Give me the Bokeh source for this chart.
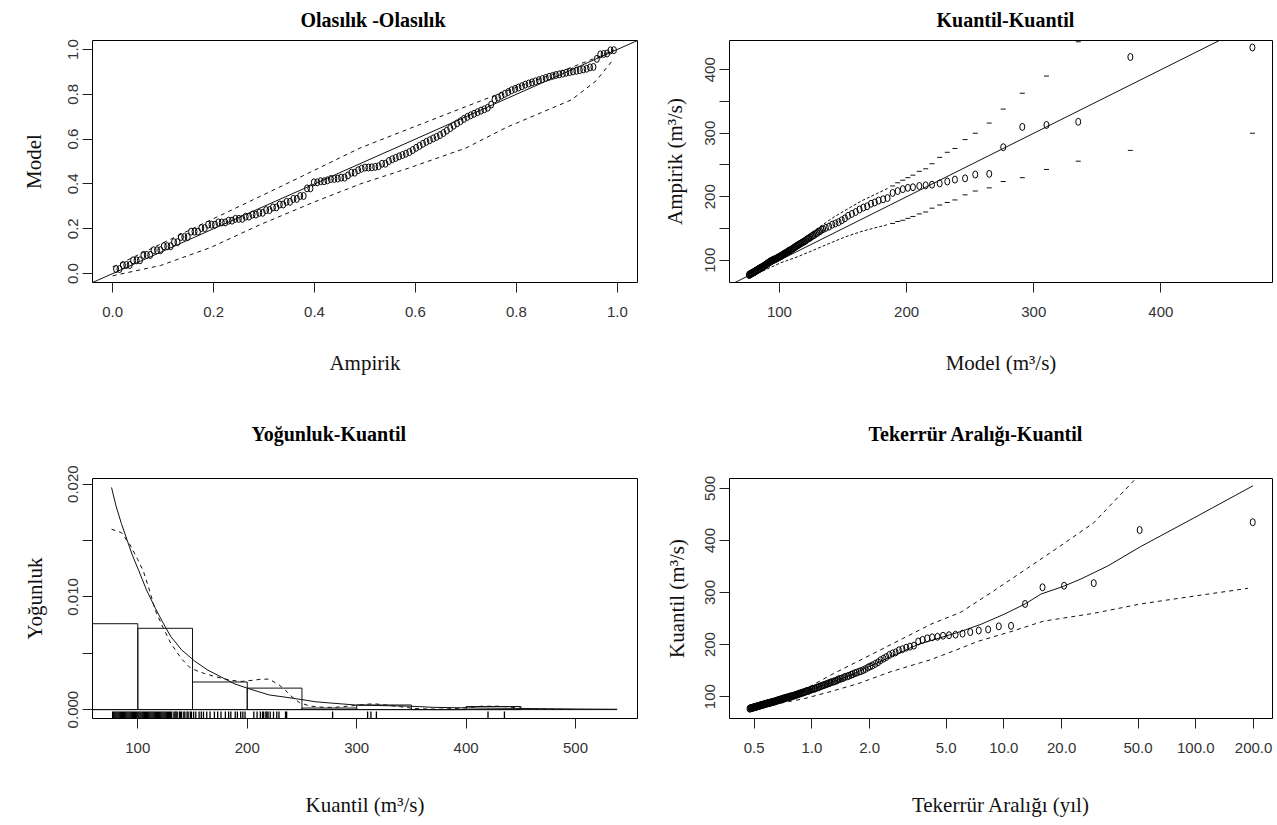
import numpy as np
from bokeh.plotting import figure
from bokeh.models import Range1d, FixedTicker, CustomJSTickFormatter, Slope
from bokeh.layouts import gridplot
from bokeh.embed import file_html
from bokeh.resources import INLINE

# ---------------- data ----------------
# sorted observed flows (m3/s), n = 147
obs = [77, 77, 78, 78, 78, 79, 79, 79, 80, 80, 80, 81, 81, 81, 82, 82, 82, 83, 83, 84,
       84, 84, 85, 85, 85, 86, 86, 87, 87, 87, 88, 88, 88, 89, 89, 90, 90, 90, 91, 91,
       92, 92, 93, 93, 94, 94, 95, 95, 96, 96, 97, 97, 98, 98, 99, 99,
       100, 100, 101, 101, 102, 102, 103, 104, 104, 105, 106, 106, 107, 108, 108, 109,
       110, 111, 111, 112, 113, 114, 115, 115, 116, 117, 118, 119, 120, 121, 122, 123,
       124, 125, 126, 127, 128, 129, 130, 131, 133, 134, 135, 136, 138, 139, 140, 142,
       143, 145, 146, 148, 149,
       151, 153, 156, 158, 160, 163, 166, 170, 173, 176, 180, 183, 185, 189, 191, 194, 196, 198,
       206, 209, 212, 214, 215, 217, 218, 219, 221, 224, 227, 229, 235, 236,
       278, 310, 313, 318, 420, 435]

# model probability of each sorted observation (P-P plot, y)
pp_model = [0.020, 0.020, 0.038, 0.038, 0.038, 0.059, 0.059, 0.059, 0.083, 0.083, 0.083,
            0.104, 0.104, 0.104, 0.122, 0.122, 0.122, 0.140, 0.140, 0.163, 0.163, 0.163,
            0.187, 0.187, 0.187, 0.203, 0.203, 0.218, 0.218, 0.218, 0.228, 0.228, 0.228,
            0.236, 0.236, 0.244, 0.244, 0.244, 0.254, 0.254, 0.263, 0.263, 0.271, 0.271,
            0.283, 0.283, 0.295, 0.295, 0.308, 0.308, 0.320, 0.320, 0.333, 0.333, 0.346, 0.346,
            0.380, 0.380, 0.407, 0.407, 0.412, 0.412, 0.416, 0.422, 0.422, 0.424, 0.428, 0.428,
            0.438, 0.450, 0.450, 0.461, 0.468, 0.473, 0.473, 0.474, 0.476, 0.479, 0.490, 0.490,
            0.502, 0.510, 0.516, 0.523, 0.529, 0.535, 0.542, 0.551, 0.561, 0.570, 0.579, 0.588,
            0.595, 0.603, 0.610, 0.618, 0.627, 0.638, 0.649, 0.660, 0.670, 0.680, 0.690, 0.699,
            0.706, 0.713, 0.720, 0.727, 0.733,
            0.740, 0.754, 0.777, 0.785, 0.794, 0.802, 0.810, 0.818, 0.824, 0.830, 0.836, 0.843,
            0.848, 0.853, 0.858, 0.863, 0.868, 0.873,
            0.878, 0.882, 0.886, 0.889, 0.892, 0.896, 0.899, 0.902, 0.905, 0.908, 0.911, 0.914,
            0.920, 0.922,
            0.958, 0.978, 0.980, 0.982, 0.996, 0.997]

# model quantile of each plotting position (Q-Q plot, x)
qq_model = [76.0, 76.3, 76.6, 76.9, 77.2, 77.5, 77.8, 78.1, 78.4, 78.7, 79.0, 79.3, 79.6, 79.9,
            80.2, 80.5, 80.8, 81.1, 81.4, 81.7, 82.0, 82.3, 82.6, 82.9, 83.2, 83.5, 83.8,
            84.1, 84.4, 84.8, 85.1, 85.4, 85.7, 86.0, 86.4, 86.7, 87.0, 87.4, 87.7, 88.0,
            88.4, 88.7, 89.1, 89.4, 89.8, 90.1, 90.5, 90.8, 91.2, 91.6, 91.9, 92.3, 92.7, 93.1,
            93.4, 93.8,
            94.3, 94.9, 95.5, 96.0, 96.6, 97.2, 97.8, 98.4, 99.0, 99.6, 100.2, 100.8, 101.4,
            102.0, 102.5, 103.0,
            103.6, 104.2, 104.8, 105.5, 106.1, 106.8, 107.4, 108.1, 108.8, 109.5, 110.2, 110.9,
            111.6, 112.4, 113.1, 113.9, 114.7, 115.5, 116.3, 117.1, 118.0, 118.9,
            119.8, 120.7, 121.6, 122.5, 123.5, 124.5, 125.5, 126.5,
            127.6, 128.7, 129.8, 130.9, 132.0, 133.2, 134.4,
            136.5, 139.0, 141.5, 144.0, 146.5, 149.0, 151.5, 154.0, 157.0, 160.0, 163.0, 166.0,
            169.0, 172.0, 175.0, 178.0, 181.5, 185.0,
            189, 193, 197, 201, 205, 210, 215, 220, 226, 232, 238, 246, 254, 265,
            276, 291, 310, 335, 376, 472]

# return period (years) of each sorted observation
rp_years = [0.473, 0.477, 0.480, 0.483, 0.487, 0.490, 0.494, 0.497, 0.501, 0.504,
            0.508, 0.512, 0.515, 0.519, 0.523, 0.527, 0.531, 0.535, 0.539, 0.543,
            0.548, 0.552, 0.557, 0.561, 0.566, 0.570, 0.575, 0.580, 0.585, 0.590,
            0.595, 0.600, 0.605, 0.610, 0.616, 0.622, 0.627, 0.633, 0.639, 0.645,
            0.651, 0.657, 0.663, 0.669, 0.676, 0.683, 0.690, 0.697, 0.704, 0.711,
            0.718, 0.726, 0.733, 0.741, 0.750, 0.758, 0.766, 0.775, 0.783, 0.792,
            0.801, 0.811, 0.820, 0.830, 0.840, 0.851, 0.861, 0.872, 0.883, 0.895,
            0.906, 0.918, 0.931, 0.943, 0.957, 0.970, 0.984, 1.00, 1.01, 1.03,
            1.04, 1.06, 1.08, 1.09, 1.11, 1.13, 1.15, 1.17, 1.19, 1.21,
            1.23, 1.25, 1.27, 1.30, 1.32, 1.35, 1.37, 1.40, 1.43, 1.46,
            1.49, 1.53, 1.56, 1.60, 1.63, 1.67, 1.71, 1.76, 1.80, 1.85,
            1.90, 1.96, 2.01, 2.07, 2.14, 2.21, 2.28, 2.36, 2.44, 2.53,
            2.63, 2.73, 2.84, 2.96, 3.10, 3.24, 3.40, 3.58, 3.77, 3.99,
            4.23, 4.51, 4.82, 5.18, 5.60, 6.09, 6.68, 7.40, 8.28, 9.41,
            10.9, 12.9, 15.9, 20.6, 29.4, 51.0, 198.0]

# P-P confidence band
pp_up_x = [0.0, 0.02, 0.158, 0.293, 0.376, 0.49, 0.586, 0.70, 0.78, 0.909, 0.966, 0.993]
pp_up_y = [0.03, 0.05, 0.20, 0.345, 0.435, 0.56, 0.645, 0.745, 0.815, 0.92, 0.97, 0.998]
pp_lo_x = [0.0, 0.095, 0.194, 0.293, 0.40, 0.491, 0.586, 0.70, 0.78, 0.909, 0.958, 0.99]
pp_lo_y = [-0.01, 0.036, 0.116, 0.219, 0.32, 0.40, 0.47, 0.56, 0.652, 0.775, 0.86, 0.95]

# Q-Q confidence band: continuous part and individual dashes
qq_band_x = [76, 90, 101, 111, 124, 142, 164, 185]
qq_band_up = [79, 95, 109, 123, 142, 167, 193, 213]
qq_band_lo_x = [76, 90, 101, 115, 128, 141, 152, 164, 175, 185]
qq_band_lo = [73, 86, 96, 106, 117, 128, 137, 145, 151, 156]
qq_dash_x = [189, 193, 197, 201, 205, 210, 215, 220, 226, 232, 238, 246, 254, 265,
             276, 291, 310, 335, 376, 472]
qq_dash_up = [217, 222, 226, 230, 234, 240, 244, 252, 262, 270, 276, 290, 300, 316,
              338, 363, 390, 444, 510, 680]
qq_dash_lo = [158, 161, 163, 166, 169, 173, 176, 182, 187, 191, 195, 203, 209, 214,
              224, 230, 243, 256, 273, 300]

# density panel
hist_edges = [50, 100, 150, 200, 250, 300, 350, 400, 450]
mod_dens_x = [76, 80, 85, 90, 95, 101, 108, 116, 123, 130, 140, 152, 164, 176, 188, 200,
              210, 220, 235, 249, 262, 274, 287, 300, 325, 349, 370, 400, 450, 503, 538]
mod_dens_y = [0.0197, 0.0181, 0.0165, 0.0151, 0.0137, 0.0123, 0.0106, 0.0090, 0.0077, 0.0065,
              0.0053, 0.0043, 0.0035, 0.0029, 0.0023, 0.0019, 0.0016, 0.0013, 0.0011, 0.0009,
              0.0007, 0.0006, 0.0005, 0.0004, 0.00035, 0.0003, 0.0002, 0.00015, 0.0001,
              0.00005, 0.00003]
kde_x = [76, 85, 93, 100, 105, 110, 116, 123, 130, 140, 148, 155, 161, 168, 176, 185, 195,
         205, 213, 220, 229, 235, 240, 248, 258, 270, 280, 292, 303, 312, 318, 327, 336, 345,
         352, 365, 377, 390, 404, 414, 423, 432, 442, 452, 461, 480, 499]
kde_y = [0.0160, 0.0157, 0.0146, 0.0133, 0.0123, 0.0108, 0.0088, 0.0073, 0.0059, 0.0045,
         0.0037, 0.0034, 0.0032, 0.0030, 0.0028, 0.0026, 0.0025, 0.0026, 0.0027, 0.0027,
         0.0022, 0.0017, 0.0012, 0.0006, 0.0003, 0.0002, 0.0002, 0.0003, 0.0004, 0.0005,
         0.0005, 0.0004, 0.0003, 0.0002, 0.0001, 0.00005, 0.00004, 0.0001, 0.0002, 0.0003,
         0.0003, 0.0003, 0.0002, 0.0001, 0.00005, 0.00002, 0.00001]

# return level panel
rl_years = [0.47, 0.69, 1.02, 1.54, 2.29, 3.56, 5.96, 7.6, 10, 12.9, 15.6, 20.5, 25.2, 34.8,
            51.5, 97.5, 198.6]
rl_level = [77, 94, 115, 139, 168, 200, 225, 239, 258, 278, 297, 312, 326, 351, 388, 443, 505]
rl_up_years = [0.47, 0.91, 1.26, 1.74, 2.58, 4.16, 5.96, 8.85, 13.3, 19.8, 29.4, 47.6, 60]
rl_up_level = [78, 113, 142, 168, 200, 239, 262, 303, 347, 390, 434, 515, 560]
rl_lo_years = [0.47, 0.91, 1.26, 1.74, 2.58, 4.16, 5.96, 7.3, 10.9, 16.1, 29.4, 51.5, 97.5, 187]
rl_lo_level = [76, 96, 110, 125, 148, 171, 193, 206, 225, 245, 260, 278, 293, 308]

titles = ["Olasılık -Olasılık", "Kuantil-Kuantil", "Yoğunluk-Kuantil", "Tekerrür Aralığı-Kuantil"]
xlabels = ["Ampirik", "Model (m³/s)", "Kuantil (m³/s)", "Tekerrür Aralığı (yıl)"]
ylabels = ["Model", "Ampirik (m³/s)", "Yoğunluk", "Kuantil (m³/s)"]

# ---------------- styling helpers ----------------
TICK_FONT = "'Liberation Sans Narrow', 'Liberation Sans', sans-serif"
SERIF = "Liberation Serif"
INK = "#111111"


def make_fig(w, h, xr, yr, borders, title, title_offset, title_standoff, xlab, ylab,
             xlab_standoff, ylab_standoff, x_type="linear"):
    l, r, t, b = borders
    p = figure(width=w, height=h, x_range=xr, y_range=yr, x_axis_type=x_type,
               output_backend="svg", toolbar_location=None,
               min_border_left=l, min_border_right=r, min_border_top=t, min_border_bottom=b)
    p.title.text = title
    p.title.align = "left"
    p.title.vertical_align = "top"
    p.title.offset = title_offset
    p.title.standoff = title_standoff
    p.title.text_font = SERIF
    p.title.text_font_size = "20px"
    p.title.text_font_style = "bold"
    p.title.text_color = "#000000"
    p.outline_line_color = "#000000"
    p.outline_line_alpha = 1.0
    p.outline_line_width = 1
    p.xgrid.visible = False
    p.ygrid.visible = False
    p.background_fill_color = "white"
    p.border_fill_color = "white"
    for ax in (p.xaxis[0], p.yaxis[0]):
        ax.axis_line_color = None
        ax.major_tick_out = 10
        ax.major_tick_in = 0
        ax.major_tick_line_color = "#222222"
        ax.minor_tick_line_color = None
        ax.major_label_text_font = TICK_FONT
        ax.major_label_text_font_size = "15px"
        ax.major_label_text_color = "#333333"
        ax.axis_label_text_font = SERIF
        ax.axis_label_text_font_size = "21px"
        ax.axis_label_text_font_style = "normal"
        ax.axis_label_text_color = INK
    p.xaxis[0].axis_label = xlab
    p.yaxis[0].axis_label = ylab
    p.xaxis[0].major_label_standoff = 14
    p.xaxis[0].axis_label_standoff = xlab_standoff
    p.yaxis[0].major_label_orientation = "vertical"
    p.yaxis[0].major_label_standoff = 4
    p.yaxis[0].axis_label_standoff = ylab_standoff
    return p


def fmt(js):
    return CustomJSTickFormatter(code=js)


n = len(obs)
pp_emp = [(i + 1) / (n + 1) for i in range(n)]

TOP_H, BOT_H = 390, 435

# ---------------- panel 1: P-P ----------------
p1 = make_fig(638, TOP_H, Range1d(-0.04, 1.04), Range1d(-0.04, 1.04), (92, 1, 40, 108),
              titles[0], 208, 15, xlabels[0], ylabels[0], 31, 20)
for ax in (p1.xaxis[0], p1.yaxis[0]):
    ax.ticker = FixedTicker(ticks=[0, 0.2, 0.4, 0.6, 0.8, 1.0], minor_ticks=[])
    ax.formatter = fmt("return tick.toFixed(1);")
p1.add_layout(Slope(gradient=1, y_intercept=0, line_color=INK, line_width=1))
p1.line(pp_up_x, pp_up_y, line_color=INK, line_width=1, line_dash="4 4")
p1.line(pp_lo_x, pp_lo_y, line_color=INK, line_width=1, line_dash="4 4")
p1.ellipse(pp_emp, pp_model, width=5, height=7, width_units="screen", height_units="screen",
           fill_color=None, line_color="#000000", line_width=1)

# ---------------- panel 2: Q-Q ----------------
p2 = make_fig(639, TOP_H, Range1d(60.7, 487.8), Range1d(65, 446), (91, 5, 40, 108),
              titles[1], 207, 15, xlabels[1], ylabels[1], 31, 16)
p2.xaxis[0].ticker = FixedTicker(ticks=[100, 200, 300, 400], minor_ticks=[])
p2.xaxis[0].formatter = fmt("return tick.toFixed(0);")
p2.yaxis[0].ticker = FixedTicker(ticks=[100, 150, 200, 250, 300, 350, 400], minor_ticks=[])
p2.yaxis[0].formatter = fmt("return (tick % 100 == 0) ? tick.toFixed(0) : '';")
p2.add_layout(Slope(gradient=1, y_intercept=0, line_color=INK, line_width=1))
p2.line(qq_band_x, qq_band_up, line_color=INK, line_width=1, line_dash="3 2")
p2.line(qq_band_lo_x, qq_band_lo, line_color=INK, line_width=1, line_dash="3 2")
p2.scatter(qq_dash_x, qq_dash_up, marker="dash", size=5, line_color=INK, line_width=1)
p2.scatter(qq_dash_x, qq_dash_lo, marker="dash", size=5, line_color=INK, line_width=1)
p2.ellipse(qq_model, obs, width=5, height=7, width_units="screen", height_units="screen",
           fill_color=None, line_color="#000000", line_width=1)

# ---------------- panel 3: density ----------------
y3 = Range1d(-0.00079, 0.0205)
x3 = Range1d(58.6, 556.6)
p3 = make_fig(638, BOT_H, x3, y3, (92, 1, 88, 107),
              titles[2], 159, 63, xlabels[2], ylabels[2], 37, 19)
p3.xaxis[0].ticker = FixedTicker(ticks=[100, 200, 300, 400, 500], minor_ticks=[])
p3.xaxis[0].formatter = fmt("return tick.toFixed(0);")
p3.yaxis[0].ticker = FixedTicker(ticks=[0, 0.005, 0.01, 0.015, 0.02], minor_ticks=[])
p3.yaxis[0].formatter = fmt("return (Math.round(tick*1000) % 10 == 0) ? tick.toFixed(3) : '';")
dens, _ = np.histogram(obs, bins=hist_edges, density=True)
p3.quad(left=hist_edges[:-1], right=hist_edges[1:], bottom=0, top=dens,
        fill_color=None, line_color=INK, line_width=1)
p3.line([x3.start - 5, mod_dens_x[-1]], [0, 0], line_color=INK, line_width=1)
p3.line(mod_dens_x, mod_dens_y, line_color=INK, line_width=1)
p3.line(kde_x, kde_y, line_color=INK, line_width=1, line_dash="4 4")
rug_h = (y3.end - y3.start) * 7 / 240
uniq = sorted(set(obs))
p3.segment(x0=uniq, y0=[y3.start] * len(uniq), x1=uniq, y1=[y3.start + rug_h] * len(uniq),
           line_color="#000000", line_width=1.3)

# ---------------- panel 4: return level ----------------
p4 = make_fig(639, BOT_H, Range1d(0.372, 251), Range1d(58, 519), (91, 5, 88, 107),
              titles[3], 139, 63, xlabels[3], ylabels[3], 37, 14, x_type="log")
p4.xaxis[0].ticker = FixedTicker(ticks=[0.5, 1, 2, 5, 10, 20, 50, 100, 200], minor_ticks=[])
p4.xaxis[0].formatter = fmt("return tick.toFixed(1);")
p4.yaxis[0].ticker = FixedTicker(ticks=[100, 200, 300, 400, 500], minor_ticks=[])
p4.yaxis[0].formatter = fmt("return tick.toFixed(0);")
p4.line(rl_years, rl_level, line_color=INK, line_width=1)
p4.line(rl_up_years, rl_up_level, line_color=INK, line_width=1, line_dash="4 4")
p4.line(rl_lo_years, rl_lo_level, line_color=INK, line_width=1, line_dash="4 4")
p4.ellipse(rp_years, obs, width=5, height=7, width_units="screen", height_units="screen",
           fill_color=None, line_color="#000000", line_width=1)

grid = gridplot([[p1, p2], [p3, p4]], toolbar_location=None)
try:
    grid.spacing = 0
except Exception:
    pass

open("out.html", "w").write(file_html(grid, INLINE))
